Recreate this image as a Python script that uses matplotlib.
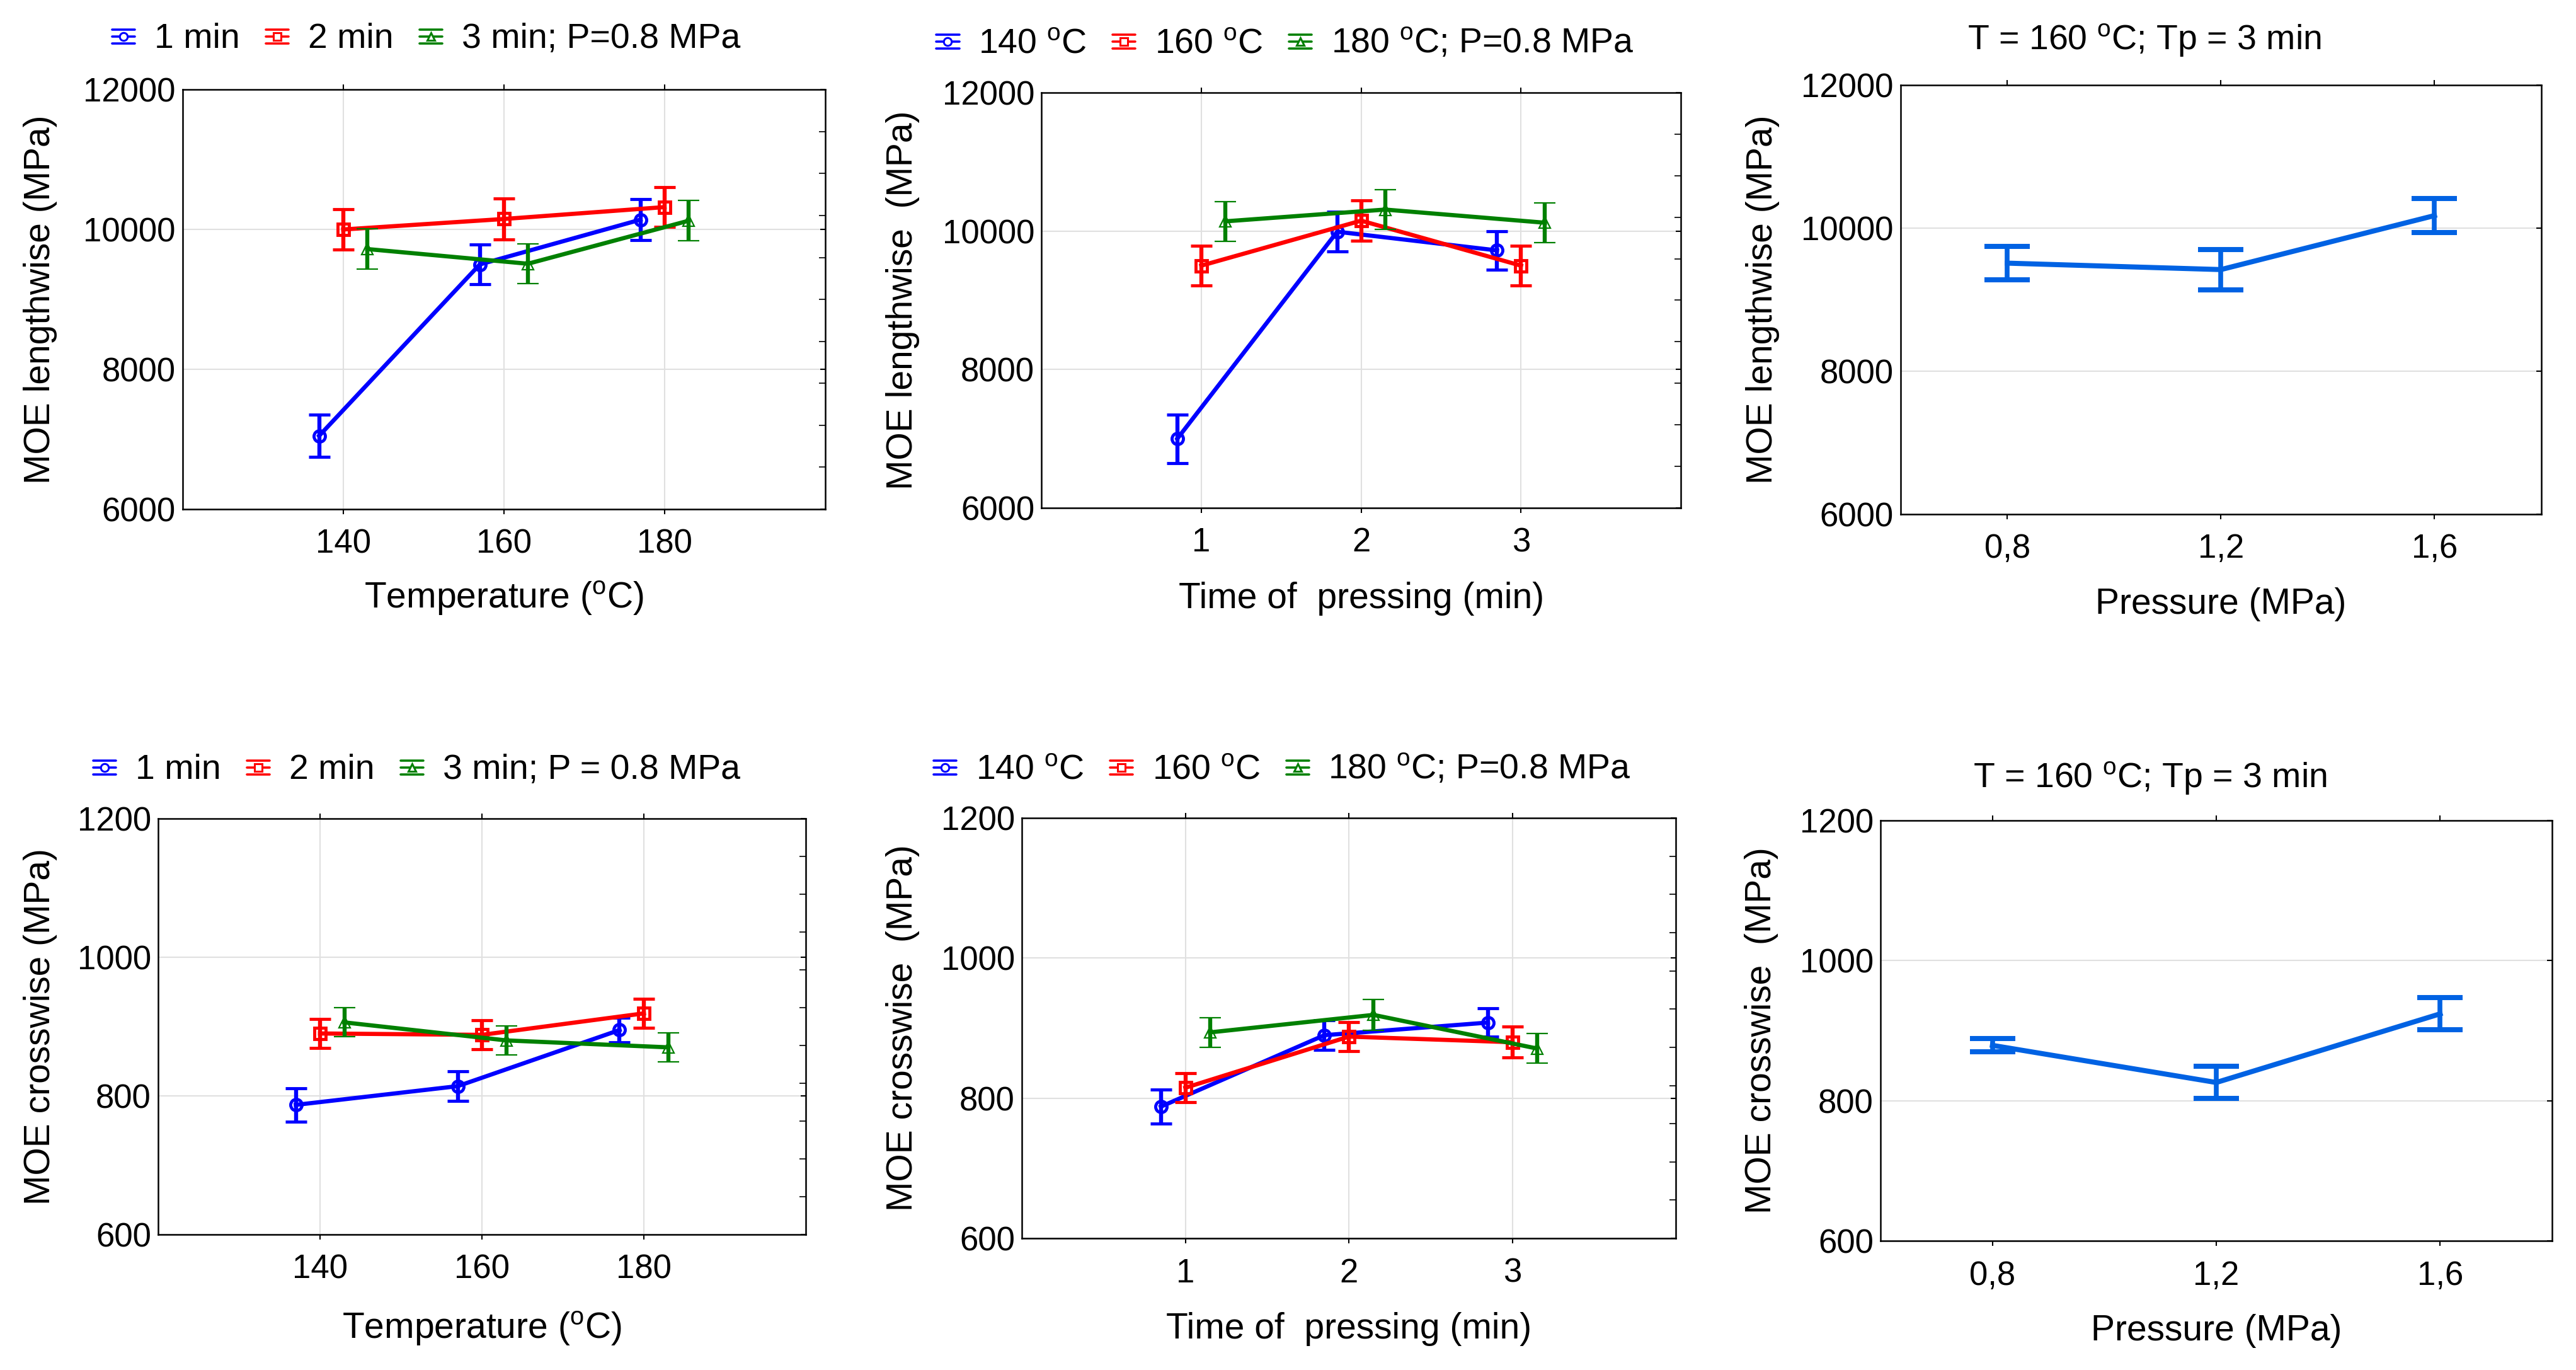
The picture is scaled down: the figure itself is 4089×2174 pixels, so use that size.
import numpy as np
import matplotlib
matplotlib.use("Agg")
import matplotlib.pyplot as plt
from matplotlib.lines import Line2D
from matplotlib.legend_handler import HandlerBase

plt.rcParams['font.family'] = ['Liberation Sans', 'DejaVu Sans']
plt.rcParams['mathtext.fontset'] = 'custom'
plt.rcParams['mathtext.rm'] = 'Liberation Sans'

# ---------------- data ----------------
temps = [140, 160, 180]
times = [1, 2, 3]
pressures = [0.8, 1.2, 1.6]
pressure_labels = ["0,8", "1,2", "1,6"]
temp_offsets = [-3, 0, 3]
time_offsets = [-0.15, 0, 0.15]

# MOE lengthwise vs temperature (series: pressing time)
len_T_1min = [7050, 9500, 10140]
len_T_1min_err = [300, 285, 290]
len_T_2min = [10000, 10150, 10320]
len_T_2min_err = [290, 290, 285]
len_T_3min = [9720, 9510, 10125]
len_T_3min_err = [287, 285, 287]

# MOE lengthwise vs time (series: temperature)
len_t_140 = [7000, 9990, 9720]
len_t_140_err = [350, 285, 280]
len_t_160 = [9500, 10150, 9500]
len_t_160_err = [285, 290, 285]
len_t_180 = [10140, 10310, 10120]
len_t_180_err = [285, 285, 285]

# MOE lengthwise vs pressure
len_P = [9510, 9420, 10175]
len_P_err = [232, 280, 237]

# MOE crosswise vs temperature
cross_T_1min = [787, 814, 895]
cross_T_1min_err = [24, 21, 18]
cross_T_2min = [890, 888, 919]
cross_T_2min_err = [21, 21, 21]
cross_T_3min = [906, 880, 870]
cross_T_3min_err = [21, 21, 21]

# MOE crosswise vs time
cross_t_140 = [788, 890, 908]
cross_t_140_err = [24, 21, 20]
cross_t_160 = [815, 888, 880]
cross_t_160_err = [21, 21, 22]
cross_t_180 = [894, 919, 871]
cross_t_180_err = [21, 22, 21]

# MOE crosswise vs pressure
cross_P = [879, 826, 924]
cross_P_err = [9.5, 23, 23]

series_colors = ['#0000ff', '#ff0000', '#008000']
series_markers = ['o', 's', '^']
series_mew = [3.5, 3.5, 1.6]
press_color = '#0062e3'

FS = 38

fig = plt.figure(figsize=(40.89, 21.74), dpi=100)


class ErrHandle:
    def __init__(self, color, marker):
        self.color = color
        self.marker = marker


class ErrIconHandler(HandlerBase):
    def create_artists(self, legend, orig_handle, xdescent, ydescent, width,
                       height, fontsize, trans):
        cy = height / 2 - ydescent - 0.03 * fontsize
        x0, x1 = -xdescent, -xdescent + width
        dy = 0.2 * fontsize
        arts = []
        for yy in (cy - dy, cy, cy + dy):
            ln = Line2D([x0, x1], [yy, yy], color=orig_handle.color, lw=2.6,
                        solid_capstyle='round', transform=trans)
            arts.append(ln)
        mk = Line2D([(x0 + x1) / 2], [cy], ls='none', marker=orig_handle.marker,
                    ms=9, mfc='white', mec=orig_handle.color, mew=2.2,
                    transform=trans)
        arts.append(mk)
        return arts


def style_axes(ax, ylim, yticks, xlim, xticks, xticklabels, n_minor, vgrid=True):
    ax.set_ylim(*ylim)
    ax.set_xlim(*xlim)
    ax.set_yticks(yticks)
    ax.set_xticks(xticks)
    ax.set_xticklabels(xticklabels)
    ax.tick_params(axis='both', labelsize=FS, length=6, width=1.5)
    ax.tick_params(axis='y', direction='in', left=False, right=True, pad=8)
    ax.tick_params(axis='x', direction='out', top=True, pad=16)
    if n_minor:
        ax.set_yticks(np.linspace(ylim[0], ylim[1], n_minor + 1)[1:-1], minor=True)
        ax.tick_params(axis='y', which='minor', direction='in', left=False,
                       right=True, length=7, width=1.2)
    ax.grid(True, axis='y', color='#e0e0e0', lw=1.5, zorder=0)
    if vgrid:
        ax.grid(True, axis='x', color='#e0e0e0', lw=1.5, zorder=0)
    for s in ax.spines.values():
        s.set_linewidth(1.8)
    ax.set_axisbelow(True)


def series_plot(ax, x, offsets, ys, errs, labels, leg_xy):
    handles = []
    for i, (y, e) in enumerate(zip(ys, errs)):
        xx = np.array(x, dtype=float) + offsets[i]
        ax.errorbar(xx, y, yerr=e, color=series_colors[i], lw=4.8,
                    marker=series_markers[i], ms=13, mfc='none', mew=series_mew[i],
                    elinewidth=4.6, capsize=12, capthick=4.6, zorder=3 + i)
        handles.append(ErrHandle(series_colors[i], series_markers[i]))
    fig.legend(handles, labels, loc='center', bbox_to_anchor=leg_xy, ncol=3,
               frameon=False, fontsize=FS + 2, handlelength=0.65, handletextpad=0.55,
               columnspacing=0.75, handler_map={ErrHandle: ErrIconHandler()})


def pressure_plot(ax, y, e, title_xy):
    ax.errorbar(pressures, y, yerr=e, color=press_color, lw=5.8, elinewidth=5.5,
                capsize=26, capthick=5.8, zorder=3)
    fig.text(title_xy[0], title_xy[1], "T = 160 $\\mathregular{^o}$C; Tp = 3 min",
             fontsize=FS + 2, ha='center', va='center')


deg = "$\\mathregular{^o}$C"

# ---------------- top row ----------------
ax1 = fig.add_axes([0.0709, 0.6283, 0.2494, 0.3063])
series_plot(ax1, temps, temp_offsets,
            [len_T_1min, len_T_2min, len_T_3min],
            [len_T_1min_err, len_T_2min_err, len_T_3min_err],
            ["1 min", "2 min", "3 min; P=0.8 MPa"], (0.1655, 0.9715))
style_axes(ax1, (6000, 12000), [6000, 8000, 10000, 12000], (120, 200), temps,
           [str(t) for t in temps], 10)
ax1.set_ylabel("MOE lengthwise (MPa)", fontsize=FS + 3)
ax1.set_xlabel("Temperature (" + deg + ")", fontsize=FS + 3)

ax2 = fig.add_axes([0.4043, 0.6293, 0.2482, 0.3031])
series_plot(ax2, times, time_offsets,
            [len_t_140, len_t_160, len_t_180],
            [len_t_140_err, len_t_160_err, len_t_180_err],
            ["140 " + deg, "160 " + deg, "180 " + deg + "; P=0.8 MPa"], (0.4989, 0.9678))
style_axes(ax2, (6000, 12000), [6000, 8000, 10000, 12000], (0, 4), times,
           [str(t) for t in times], 10)
ax2.set_ylabel("MOE lengthwise  (MPa)", fontsize=FS + 3)
ax2.set_xlabel("Time of  pressing (min)", fontsize=FS + 3)

ax3 = fig.add_axes([0.7378, 0.6247, 0.2487, 0.3132])
pressure_plot(ax3, len_P, len_P_err, (0.8325, 0.9706))
style_axes(ax3, (6000, 12000), [6000, 8000, 10000, 12000], (0.6, 1.8), pressures,
           pressure_labels, 0, vgrid=False)
ax3.set_ylabel("MOE lengthwise (MPa)", fontsize=FS + 3)
ax3.set_xlabel("Pressure (MPa)", fontsize=FS + 3)

# ---------------- bottom row ----------------
ax4 = fig.add_axes([0.0614, 0.0989, 0.2514, 0.3036])
series_plot(ax4, temps, temp_offsets,
            [cross_T_1min, cross_T_2min, cross_T_3min],
            [cross_T_1min_err, cross_T_2min_err, cross_T_3min_err],
            ["1 min", "2 min", "3 min; P = 0.8 MPa"], (0.1617, 0.4379))
style_axes(ax4, (600, 1200), [600, 800, 1000, 1200], (120, 200), temps,
           [str(t) for t in temps], 11)
ax4.set_ylabel("MOE crosswise (MPa)", fontsize=FS + 3)
ax4.set_xlabel("Temperature (" + deg + ")", fontsize=FS + 3)

ax5 = fig.add_axes([0.3967, 0.0961, 0.2539, 0.3068])
series_plot(ax5, times, time_offsets,
            [cross_t_140, cross_t_160, cross_t_180],
            [cross_t_140_err, cross_t_160_err, cross_t_180_err],
            ["140 " + deg, "160 " + deg, "180 " + deg + "; P=0.8 MPa"], (0.4978, 0.4379))
style_axes(ax5, (600, 1200), [600, 800, 1000, 1200], (0, 4), times,
           [str(t) for t in times], 11)
ax5.set_ylabel("MOE crosswise  (MPa)", fontsize=FS + 3)
ax5.set_xlabel("Time of  pressing (min)", fontsize=FS + 3)

ax6 = fig.add_axes([0.7300, 0.0943, 0.2607, 0.3068])
pressure_plot(ax6, cross_P, cross_P_err, (0.8347, 0.4319))
style_axes(ax6, (600, 1200), [600, 800, 1000, 1200], (0.6, 1.8), pressures,
           pressure_labels, 0, vgrid=False)
ax6.set_ylabel("MOE crosswise  (MPa)", fontsize=FS + 3)
ax6.set_xlabel("Pressure (MPa)", fontsize=FS + 3)

# label placement
ylab_x = {ax1: -0.195, ax2: -0.190, ax3: -0.189, ax4: -0.156, ax5: -0.156, ax6: -0.152}
xlab_y = {ax1: -0.168, ax2: -0.178, ax3: -0.170, ax4: -0.182, ax5: -0.175, ax6: -0.174}
for ax in ylab_x:
    ax.yaxis.set_label_coords(ylab_x[ax], 0.5)
    ax.xaxis.set_label_coords(0.5, xlab_y[ax])

fig.savefig("out.png", dpi=100, facecolor='white')
